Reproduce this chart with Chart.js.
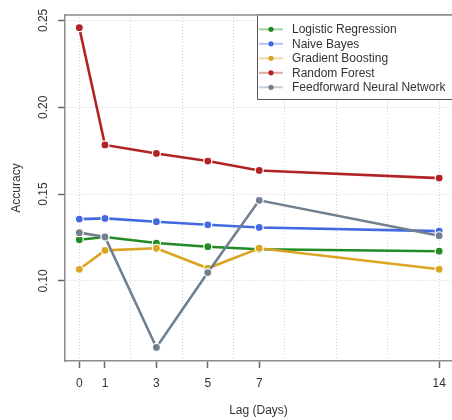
<!DOCTYPE html>
<html>
<head>
<meta charset="utf-8">
<script src="https://cdn.jsdelivr.net/npm/chart.js@4.4.0/dist/chart.umd.min.js"></script>
<style>
  html, body { margin: 0; padding: 0; background: #fff; }
  #graphAccuracy { display: block; }
</style>
</head>
<body>
<canvas id="graphAccuracy" width="452" height="420"></canvas>
<script>
// valeurs
var lags = [0, 1, 3, 5, 7, 14];
var gridLags = [0, 2, 4, 6, 8, 10, 12, 14];
var accuracyTicks = [0.10, 0.15, 0.20, 0.25];

var modeles = ["Logistic Regression", "Naive Bayes", "Gradient Boosting", "Random Forest", "Feedforward Neural Network"];
var couleurs = ["#228B22", "#4169E1", "#DAA520", "#B22222", "#708090"];

var logistic = [0.1237, 0.1253, 0.1218, 0.1197, 0.1182, 0.1171];
var naiveBayes = [0.1356, 0.1360, 0.1341, 0.1323, 0.1308, 0.1287];
var gradientBoosting = [0.1067, 0.1176, 0.1188, 0.1073, 0.1188, 0.1067];
var randomForest = [0.2458, 0.1783, 0.1734, 0.1690, 0.1636, 0.1592];
var feedforward = [0.1278, 0.1253, 0.0617, 0.1048, 0.1464, 0.1260];

var series = [logistic, naiveBayes, gradientBoosting, randomForest, feedforward];

var police = "'Liberation Sans', Arial, Helvetica, sans-serif";
var gris = '#333333';

var datasets = [];
for (var i in series) {
    var pts = [];
    for (var j in lags)
        pts.push({x: lags[j], y: series[i][j]});
    datasets.push({
        label: modeles[i],
        data: pts,
        borderColor: couleurs[i],
        backgroundColor: couleurs[i],
        borderWidth: 2.6,
        pointRadius: 4,
        pointHoverRadius: 4,
        pointBorderColor: '#ffffff',
        pointBorderWidth: 1.2,
        pointBackgroundColor: couleurs[i],
        fill: false,
        tension: 0,
        order: series.length - i
    });
}

// cadre du haut + legende dans le coin
var cadreEtLegende = {
    id: 'cadreEtLegende',
    afterDraw: function(chart) {
        var ctx = chart.ctx;
        var area = chart.chartArea;
        ctx.save();
        ctx.strokeStyle = '#8c8c8c';
        ctx.lineWidth = 1.5;
        ctx.beginPath();
        ctx.moveTo(area.left, area.top);
        ctx.lineTo(chart.width, area.top);
        ctx.stroke();

        var x0 = 257, y0 = area.top, h = 84.5;
        ctx.fillStyle = '#ffffff';
        ctx.fillRect(x0, y0, chart.width - x0 + 2, h);
        ctx.strokeStyle = '#555555';
        ctx.lineWidth = 1;
        ctx.beginPath();
        ctx.moveTo(chart.width + 2, y0 + h);
        ctx.lineTo(x0 + 0.5, y0 + h);
        ctx.lineTo(x0 + 0.5, y0);
        ctx.stroke();
        ctx.strokeStyle = '#8c8c8c';
        ctx.lineWidth = 1.5;
        ctx.beginPath();
        ctx.moveTo(x0, y0);
        ctx.lineTo(chart.width, y0);
        ctx.stroke();

        ctx.font = '12px ' + police;
        ctx.textBaseline = 'middle';
        ctx.textAlign = 'left';
        for (var k = 0; k < modeles.length; k++) {
            var y = y0 + 14.3 + k * 14.5;
            ctx.globalAlpha = 0.4;
            ctx.strokeStyle = couleurs[k];
            ctx.lineWidth = 2;
            ctx.beginPath();
            ctx.moveTo(259, y);
            ctx.lineTo(283, y);
            ctx.stroke();
            ctx.globalAlpha = 1;
            ctx.fillStyle = couleurs[k];
            ctx.beginPath();
            ctx.arc(271, y, 2.6, 0, Math.PI * 2);
            ctx.fill();
            ctx.fillStyle = gris;
            ctx.fillText(modeles[k], 292, y + 0.5);
        }
        ctx.restore();
    }
};

var tousLesTicks = gridLags.concat(lags.filter(function(v) { return gridLags.indexOf(v) < 0; }))
    .sort(function(a, b) { return a - b; });

var graphTarget = document.getElementById('graphAccuracy');
var myGraph = new Chart(graphTarget, {
    type: 'line',
    data: { datasets: datasets },
    plugins: [cadreEtLegende],
    options: {
        responsive: false,
        animation: false,
        devicePixelRatio: 1,
        layout: { autoPadding: false, padding: { top: 15, right: 0, left: 0, bottom: 0 } },
        plugins: {
            legend: { display: false },
            tooltip: { enabled: false }
        },
        scales: {
            x: {
                type: 'linear',
                min: -0.556,
                max: 14.5,
                afterBuildTicks: function(axis) {
                    axis.ticks = tousLesTicks.map(function(v) { return {value: v}; });
                },
                afterFit: function(axis) {
                    axis.height = 59;
                    axis.paddingLeft = 0;
                    axis.paddingRight = 0;
                },
                ticks: {
                    autoSkip: false,
                    maxRotation: 0,
                    padding: 8,
                    color: gris,
                    font: { family: police, size: 12 },
                    callback: function(v) { return lags.indexOf(v) >= 0 ? String(v) : ''; }
                },
                grid: {
                    color: function(c) {
                        return (c.tick && gridLags.indexOf(c.tick.value) >= 0) ? '#d2d2d2' : 'rgba(0,0,0,0)';
                    },
                    lineWidth: 1,
                    tickLength: 7,
                    tickWidth: 1.5,
                    tickColor: function(c) {
                        return (c.tick && lags.indexOf(c.tick.value) >= 0) ? '#666666' : 'rgba(0,0,0,0)';
                    }
                },
                border: { display: true, color: '#8c8c8c', width: 1.5, dash: [1, 2] },
                title: {
                    display: true,
                    text: 'Lag (Days)',
                    color: gris,
                    font: { family: police, size: 12 },
                    padding: { top: 0, bottom: 2 }
                }
            },
            y: {
                type: 'linear',
                min: 0.0539,
                max: 0.2531,
                afterBuildTicks: function(axis) {
                    axis.ticks = accuracyTicks.map(function(v) { return {value: v}; });
                },
                afterFit: function(axis) {
                    axis.width = 65;
                    axis.paddingTop = 0;
                    axis.paddingBottom = 0;
                },
                ticks: {
                    minRotation: 90,
                    maxRotation: 90,
                    crossAlign: 'center',
                    padding: 3,
                    color: gris,
                    font: { family: police, size: 12 },
                    callback: function(v) { return v.toFixed(2); }
                },
                grid: {
                    color: '#d2d2d2',
                    lineWidth: 1,
                    tickLength: 7,
                    tickWidth: 1.5,
                    tickColor: '#666666'
                },
                border: { display: true, color: '#8c8c8c', width: 1.5, dash: [1, 2] },
                title: {
                    display: true,
                    text: 'Accuracy',
                    color: gris,
                    font: { family: police, size: 12 },
                    padding: { top: 9, bottom: 0 }
                }
            }
        }
    }
});
</script>
</body>
</html>
